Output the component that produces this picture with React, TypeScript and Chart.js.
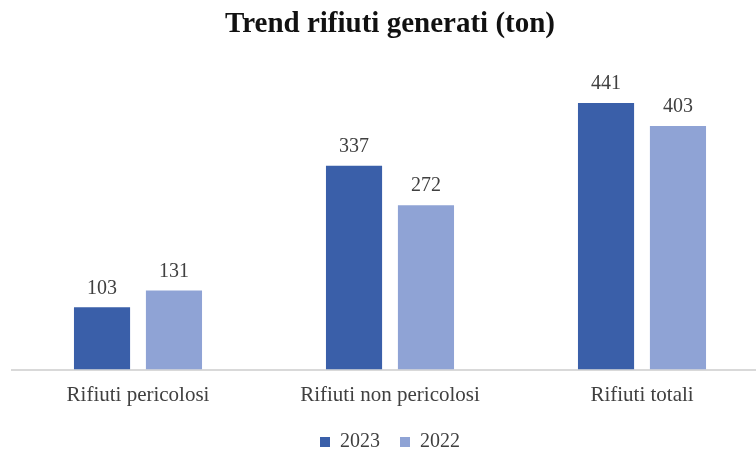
import React, { useEffect, useRef } from "react";
import { Chart, registerables } from "chart.js";

Chart.register(...registerables);

const categories = ["Rifiuti pericolosi", "Rifiuti non pericolosi", "Rifiuti totali"];
const series2023 = [103, 337, 441];
const series2022 = [131, 272, 403];
const seriesLabels = ["2023", "2022"];
const titleText = "Trend rifiuti generati (ton)";

const FONT = "'Liberation Serif', 'DejaVu Serif', serif";
const TEXT = "#404040";

const valueLabels = {
  id: "valueLabels",
  afterDatasetsDraw(chart: any) {
    const ctx = chart.ctx;
    ctx.save();
    ctx.font = `20px ${FONT}`;
    ctx.fillStyle = TEXT;
    ctx.textAlign = "center";
    ctx.textBaseline = "bottom";
    chart.data.datasets.forEach((ds: any, i: number) => {
      const meta = chart.getDatasetMeta(i);
      meta.data.forEach((bar: any, j: number) => {
        ctx.fillText(String(ds.data[j]), bar.x, bar.y - 9);
      });
    });
    ctx.restore();
  },
};

export default function App() {
  const ref = useRef<HTMLCanvasElement>(null);
  useEffect(() => {
    if (!ref.current) return;
    const chart = new Chart(ref.current, {
      type: "bar",
      data: {
        labels: categories,
        datasets: [
          { label: seriesLabels[0], data: series2023, backgroundColor: "#3A5FA9", categoryPercentage: 0.571, barPercentage: 0.78 },
          { label: seriesLabels[1], data: series2022, backgroundColor: "#8FA3D5", categoryPercentage: 0.571, barPercentage: 0.78 },
        ],
      },
      options: {
        animation: false,
        responsive: false,
        layout: { padding: { left: 12, right: 12, top: 0, bottom: 0 } },
        plugins: {
          title: {
            display: true,
            text: titleText,
            color: "#111",
            font: { family: FONT, size: 29, weight: "bold" },
            padding: { top: 7, bottom: 25.5 },
          },
          legend: {
            position: "bottom",
            labels: {
              color: TEXT,
              font: { family: FONT, size: 20 },
              usePointStyle: true,
              pointStyle: "rect",
              boxWidth: 10,
              boxHeight: 10,
              padding: 20,
            },
          },
          tooltip: { enabled: false },
        },
        scales: {
          x: {
            grid: { display: false, drawTicks: false },
            border: { display: true, color: "#D9D9D9", width: 2 },
            ticks: { color: TEXT, font: { family: FONT, size: 21 }, padding: 13.4 },
            afterFit: (scale: any) => {
              scale.height -= 9.6;
            },
          },
          y: {
            display: false,
            min: 0,
            max: 500,
          },
        },
      },
      plugins: [valueLabels],
    });
    return () => chart.destroy();
  }, []);
  return (
    <div style={{ position: "fixed", left: 0, top: 0, width: 756, height: 453, overflow: "hidden", background: "#fff" }}>
      <canvas ref={ref} width={780} height={462} style={{ display: "block", width: 780, height: 462 }} />
    </div>
  );
}
